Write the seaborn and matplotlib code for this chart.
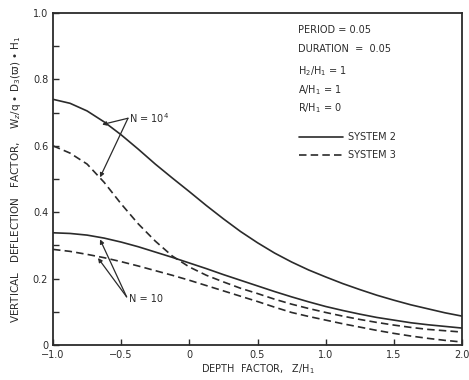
import matplotlib
matplotlib.use("Agg")
import matplotlib.pyplot as plt
import seaborn as sns
import pandas as pd
from matplotlib.lines import Line2D

# Depth factor Z/H1
depth = [-1.0, -0.875, -0.75, -0.625, -0.5, -0.375, -0.25, -0.125, 0.0,
         0.125, 0.25, 0.375, 0.5, 0.625, 0.75, 0.875, 1.0,
         1.125, 1.25, 1.375, 1.5, 1.625, 1.75, 1.875, 2.0]

# Vertical deflection factor for each system and load count N
sys2_n1e4 = [0.740, 0.728, 0.705, 0.672, 0.633, 0.590, 0.545, 0.503, 0.462,
             0.420, 0.380, 0.342, 0.308, 0.277, 0.250, 0.226, 0.205,
             0.185, 0.167, 0.150, 0.135, 0.121, 0.109, 0.097, 0.087]
sys3_n1e4 = [0.600, 0.578, 0.545, 0.490, 0.425, 0.365, 0.313, 0.268, 0.235,
             0.210, 0.190, 0.171, 0.155, 0.138, 0.123, 0.110, 0.098,
             0.087, 0.077, 0.068, 0.060, 0.053, 0.047, 0.043, 0.039]
sys2_n10 = [0.338, 0.336, 0.331, 0.322, 0.310, 0.296, 0.280, 0.264, 0.247,
            0.230, 0.212, 0.195, 0.178, 0.161, 0.145, 0.130, 0.116,
            0.104, 0.093, 0.083, 0.075, 0.067, 0.061, 0.056, 0.051]
sys3_n10 = [0.288, 0.282, 0.273, 0.263, 0.251, 0.238, 0.224, 0.210, 0.195,
            0.179, 0.163, 0.147, 0.131, 0.114, 0.098, 0.086, 0.075,
            0.064, 0.054, 0.044, 0.035, 0.027, 0.020, 0.014, 0.009]

x_ticks = [-1.0, -0.5, 0.0, 0.5, 1.0, 1.5, 2.0]
x_tick_labels = ["−1.0", "−0.5", "0", "0.5", "1.0", "1.5", "2.0"]
y_ticks = [0.0, 0.2, 0.4, 0.6, 0.8, 1.0]
y_tick_labels = ["0", "0.2", "0.4", "0.6", "0.8", "1.0"]

params = ["PERIOD = 0.05", "DURATION  =  0.05", r"H$_2$/H$_1$ = 1", r"A/H$_1$ = 1", r"R/H$_1$ = 0"]
param_y = [0.949, 0.892, 0.826, 0.768, 0.714]

rows = []
for system, n, vals in [("SYSTEM 2", "1e4", sys2_n1e4), ("SYSTEM 3", "1e4", sys3_n1e4),
                        ("SYSTEM 2", "10", sys2_n10), ("SYSTEM 3", "10", sys3_n10)]:
    for z, w in zip(depth, vals):
        rows.append({"z": z, "w": w, "system": system, "curve": system + n})
df = pd.DataFrame(rows)

sns.set_style("ticks")
plt.rcParams["font.family"] = ["DejaVu Sans"]
ink = "#2b2b2b"

fig = plt.figure(figsize=(4.69, 3.80), dpi=100)
ax = fig.add_axes([53 / 469, 1 - 345 / 380, 409 / 469, 332 / 380])

sns.lineplot(data=df, x="z", y="w", style="system", units="curve", estimator=None,
             color=ink, linewidth=1.2, legend=False, ax=ax,
             dashes={"SYSTEM 2": "", "SYSTEM 3": (4.5, 2.5)})

ax.set_xlim(-1.0, 2.0)
ax.set_ylim(0.0, 1.0)
ax.set_xticks(x_ticks)
ax.set_xticklabels(x_tick_labels)
ax.set_yticks(y_ticks)
ax.set_yticklabels(y_tick_labels)
ax.set_yticks([0.1, 0.3, 0.5, 0.7, 0.9], minor=True)
ax.tick_params(axis="both", which="both", direction="in", colors=ink, labelcolor=ink,
               labelsize=7, width=1.0)
ax.tick_params(axis="both", which="major", length=4)
ax.tick_params(axis="y", which="minor", length=4)
for s in ax.spines.values():
    s.set_color(ink)
    s.set_linewidth(1.3)

ax.set_xlabel(r"DEPTH  FACTOR,   Z/H$_1$", fontsize=7, color=ink, labelpad=2)
ax.set_ylabel(r"VERTICAL   DEFLECTION   FACTOR,    W$_z$/q • D$_3$(ϖ) • H$_1$",
              fontsize=7.5, color=ink, labelpad=7)

# Parameter block
for t, yt in zip(params, param_y):
    ax.text(0.599, yt, t, transform=ax.transAxes,
            fontsize=7, color=ink, va="center", ha="left")

# Line-style key
for yk, ls, lab in [(0.627, "-", "SYSTEM 2"), (0.572, (0, (4.5, 2.5)), "SYSTEM 3")]:
    ax.add_line(Line2D([0.601, 0.709], [yk, yk], transform=ax.transAxes, color=ink,
                       linewidth=1.2, linestyle=ls))
    ax.text(0.722, yk, lab, transform=ax.transAxes, fontsize=7, color=ink,
            va="center", ha="left")

# N labels with leader arrows to the curves
arrow = dict(arrowstyle="-|>", color=ink, lw=0.9, mutation_scale=6, shrinkA=0, shrinkB=0)
ax.text(-0.44, 0.683, r"N = 10$^4$", fontsize=7, color=ink, va="center", ha="left")
ax.annotate("", xy=(-0.64, 0.664), xytext=(-0.45, 0.683), arrowprops=arrow)
ax.annotate("", xy=(-0.655, 0.505), xytext=(-0.45, 0.683), arrowprops=arrow)
ax.text(-0.44, 0.14, "N = 10", fontsize=7, color=ink, va="center", ha="left")
ax.annotate("", xy=(-0.655, 0.318), xytext=(-0.46, 0.145), arrowprops=arrow)
ax.annotate("", xy=(-0.67, 0.262), xytext=(-0.46, 0.145), arrowprops=arrow)

fig.savefig("out.png", dpi=100)
